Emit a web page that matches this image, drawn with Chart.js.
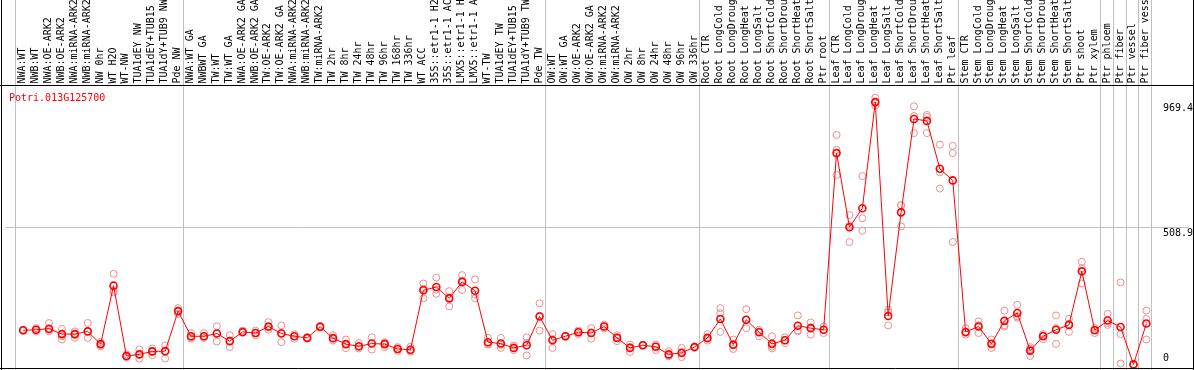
<!DOCTYPE html>
<html>
<head>
<meta charset="utf-8">
<script src="https://cdn.jsdelivr.net/npm/chart.js@4.4.0/dist/chart.umd.min.js"></script>
<style>
  html, body { margin: 0; padding: 0; background: #fff; }
  #wrap { width: 1194px; height: 370px; }
</style>
</head>
<body>
<div id="wrap"><canvas id="chart" width="1194" height="370"></canvas></div>
<script>
const geneId = "Potri.013G125700";

const categories = [
  "NWA:WT", "NWB:WT", "NWA:OE-ARK2", "NWB:OE-ARK2", "NWA:miRNA-ARK2", "NWB:miRNA-ARK2",
  "NW 0hr", "WT H2O", "WT-NW", "TUA1dEY NW", "TUA1dEY+TUB15 NW", "TUA1dY+TUB9 NW", "Pde NW",
  "NWA:WT GA", "NWBWT GA", "TW:WT", "TW:WT GA", "NWA:OE-ARK2 GA", "NWB:OE-ARK2 GA",
  "TW:OE-ARK2", "TW:OE-ARK2 GA", "NWA:miRNA-ARK2 GA", "NWB:miRNA-ARK2 GA", "TW:miRNA-ARK2",
  "TW 2hr", "TW 8hr", "TW 24hr", "TW 48hr", "TW 96hr", "TW 168hr", "TW 336hr", "WT ACC",
  "35S::etr1-1 H2O", "35S::etr1-1 ACC", "LMX5::etr1-1 H2O", "LMX5::etr1-1 ACC",
  "WT-TW", "TUA1dEY TW", "TUA1dEY+TUB15 TW", "TUA1dY+TUB9 TW", "Pde TW",
  "OW:WT", "OW:WT GA", "OW:OE-ARK2", "OW:OE-ARK2 GA", "OW:miRNA-ARK2", "OW:miRNA-ARK2 GA",
  "OW 2hr", "OW 8hr", "OW 24hr", "OW 48hr", "OW 96hr", "OW 336hr",
  "Root CTR", "Root LongCold", "Root LongDrought", "Root LongHeat", "Root LongSalt",
  "Root ShortCold", "Root ShortDrought", "Root ShortHeat", "Root ShortSalt", "Ptr root",
  "Leaf CTR", "Leaf LongCold", "Leaf LongDrought", "Leaf LongHeat", "Leaf LongSalt",
  "Leaf ShortCold", "Leaf ShortDrought", "Leaf ShortHeat", "Leaf ShortSalt", "Ptr leaf",
  "Stem CTR", "Stem LongCold", "Stem LongDrought", "Stem LongHeat", "Stem LongSalt",
  "Stem ShortCold", "Stem ShortDrought", "Stem ShortHeat", "Stem ShortSalt", "Ptr shoot",
  "Ptr xylem", "Ptr phloem", "Ptr fiber", "Ptr vessel", "Ptr fiber vessel"
];

// index of the last sample in each block (a separator is drawn after it)
const groupEnds = [-1, 12, 40, 52, 62, 72, 83, 84, 85, 86, 87];

const means = [
  126, 128, 132, 112, 112, 122, 75, 291, 31, 37, 48, 49, 197,
  104, 104, 114, 86, 120, 116, 140, 114, 104, 98, 139, 97, 75, 67, 77, 75, 57, 54,
  274, 286, 244, 305, 272, 82, 77, 61, 71, 177,
  89, 104, 119, 116, 140, 98, 61, 71, 65, 37, 43, 64,
  98, 168, 73, 165, 119, 76, 89, 143, 134, 128,
  781, 507, 577, 969.4, 179, 562, 907, 900, 723, 680,
  120, 140, 76, 161, 190, 51, 104, 128, 146, 344,
  126, 162, 138, 0, 151
];

const rep1 = [
  124, 134, 153, 131, 122, 153, 83, 335, 37, 55, 59, 70, 208,
  116, 116, 141, 108, 125, 125, 156, 144, 112, 100, 142, 108, 92, 79, 100, 82, 64, 65,
  299, 321, 271, 330, 314, 98, 98, 70, 100, 226,
  112, 106, 125, 134, 147, 108, 73, 73, 74, 49, 61, 66,
  112, 208, 92, 204, 128, 104, 100, 181, 155, 140,
  848, 552, 696, 986, 201, 588, 954, 922, 812, 808,
  134, 159, 92, 199, 220, 64, 112, 181, 168, 379,
  134, 187, 303, 0, 199
];

const rep2 = [
  128, 128, 128, 104, 110, 122, 73, 272, 30, 37, 46, 49, 196,
  100, 104, 114, 86, 118, 116, 136, 116, 104, 98, 139, 96, 75, 65, 77, 78, 57, 50,
  280, 276, 248, 310, 258, 76, 72, 61, 80, 180,
  94, 104, 120, 118, 140, 100, 64, 71, 67, 31, 40, 64,
  95, 189, 72, 165, 122, 66, 90, 126, 137, 128,
  793, 513, 540, 966, 192, 588, 918, 915, 710, 781,
  116, 145, 76, 145, 178, 58, 107, 134, 150, 355,
  128, 153, 112, 0, 168
];

const rep3 = [
  126, 122, 122, 92, 98, 98, 67, 266, 26, 21, 34, 22, 187,
  95, 98, 85, 64, 117, 108, 128, 82, 95, 96, 136, 88, 60, 59, 55, 64, 50, 47,
  244, 261, 214, 275, 244, 73, 61, 53, 33, 125,
  61, 102, 112, 95, 133, 86, 46, 69, 53, 31, 27, 62,
  88, 120, 57, 134, 104, 59, 79, 122, 110, 116,
  700, 452, 494, 956, 144, 510, 855, 855, 650, 452,
  110, 116, 61, 140, 173, 31, 93, 76, 120, 299,
  116, 146, 3, 0, 92
];

const yTicks = [969.4, 508.9, 0];
const yMax = 1017.87;

const FONT = "10px 'DejaVu Sans Mono', 'Liberation Mono', monospace";
const PINK = "#ee8e8e";
const RED = "#ff0000";

const xy = arr => arr.map((v, i) => ({ x: i, y: v }));

// grid lines and frame, drawn under/over the points
const gridPlugin = {
  id: "grid",
  beforeDatasetsDraw(chart) {
    const ctx = chart.ctx;
    const xs = chart.scales.x, ys = chart.scales.y;
    const area = chart.chartArea;
    ctx.save();
    ctx.strokeStyle = "#c0c0c0";
    ctx.lineWidth = 1;
    ctx.beginPath();
    groupEnds.forEach(k => {
      const x = Math.round(xs.getPixelForValue(k + 5 / 13)) + 0.5;
      ctx.moveTo(x, 0);
      ctx.lineTo(x, chart.height);
    });
    const gy = Math.round(ys.getPixelForValue(508.9)) + 0.5;
    ctx.moveTo(area.left, gy);
    ctx.lineTo(area.right, gy);
    ctx.stroke();
    ctx.restore();
  },
  afterDatasetsDraw(chart) {
    const ctx = chart.ctx;
    const xs = chart.scales.x, ys = chart.scales.y;
    const area = chart.chartArea;
    ctx.save();

    // frame
    ctx.strokeStyle = "#000";
    ctx.lineWidth = 1;
    ctx.beginPath();
    ctx.moveTo(0, 85.5); ctx.lineTo(chart.width, 85.5);
    ctx.moveTo(1.5, 0); ctx.lineTo(1.5, chart.height);
    ctx.moveTo(chart.width - 0.5, 0); ctx.lineTo(chart.width - 0.5, chart.height);
    ctx.moveTo(0, 368.5); ctx.lineTo(chart.width, 368.5);
    ctx.stroke();

    // sample names, written upwards
    ctx.font = FONT;
    ctx.fillStyle = "#000";
    ctx.textAlign = "left";
    ctx.textBaseline = "alphabetic";
    categories.forEach((name, i) => {
      const x = Math.round(xs.getPixelForValue(i)) + 2;
      ctx.save();
      ctx.translate(x, 83.5);
      ctx.rotate(-Math.PI / 2);
      ctx.fillText(name, 0, 0);
      ctx.restore();
    });

    // gene id
    ctx.fillStyle = RED;
    ctx.fillText(geneId, 9, 100.5);

    // value labels on the right
    ctx.fillStyle = "#000";
    yTicks.forEach(v => {
      const y = ys.getPixelForValue(v);
      if (y + 10 > area.bottom) {
        ctx.textBaseline = "bottom";
        ctx.fillText(String(v), 1163, y - 1);
      } else {
        ctx.textBaseline = "top";
        ctx.fillText(String(v), 1163, y + 1.5);
      }
    });
    ctx.restore();
  }
};

const repStyle = {
  showLine: false,
  pointRadius: 3.5,
  pointBorderWidth: 1,
  pointBorderColor: PINK,
  pointBackgroundColor: "rgba(0,0,0,0)",
  clip: false,
  order: 1
};

new Chart(document.getElementById("chart"), {
  type: "line",
  data: {
    datasets: [
      {
        label: "mean",
        data: xy(means),
        borderColor: RED,
        borderWidth: 1,
        tension: 0,
        pointRadius: 3.5,
        pointBorderWidth: 1.6,
        pointBorderColor: RED,
        pointBackgroundColor: "rgba(0,0,0,0)",
        clip: false,
        order: 0
      },
      Object.assign({ label: "rep1", data: xy(rep1) }, repStyle),
      Object.assign({ label: "rep2", data: xy(rep2) }, repStyle),
      Object.assign({ label: "rep3", data: xy(rep3) }, repStyle)
    ]
  },
  options: {
    responsive: false,
    animation: false,
    devicePixelRatio: 1,
    layout: { padding: { left: 2, right: 1, top: 89, bottom: 3 } },
    scales: {
      x: { type: "linear", min: -1.3615, max: 90.254, display: false },
      y: { min: 0, max: yMax, display: false }
    },
    plugins: {
      legend: { display: false },
      tooltip: { enabled: false },
      title: { display: false }
    }
  },
  plugins: [gridPlugin]
});
</script>
</body>
</html>
